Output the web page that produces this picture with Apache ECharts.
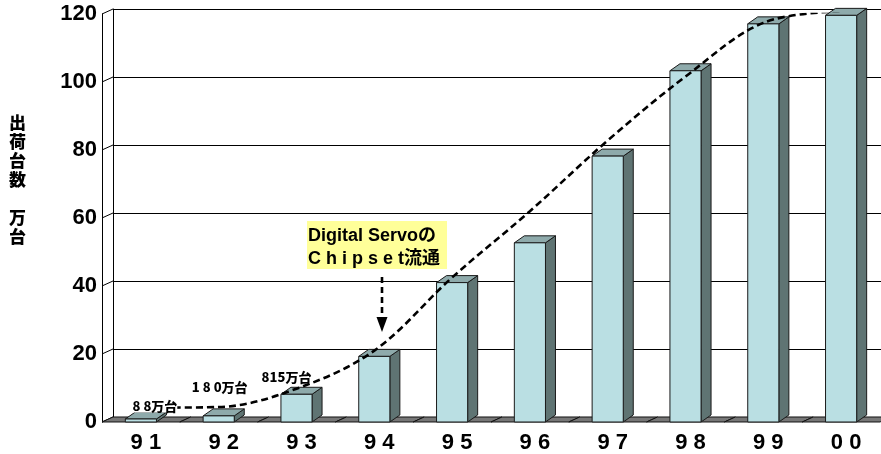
<!DOCTYPE html>
<html>
<head>
<meta charset="utf-8">
<script src="https://cdn.jsdelivr.net/npm/echarts@6/dist/echarts.min.js"></script>
<style>
  html, body { margin: 0; padding: 0; background: #fff; }
  #main { width: 881px; height: 454px; }
</style>
</head>
<body>
<div id="main"></div>
<script>
// Yearly shipments (bars) and the dashed trend curve, axis unit 百万台
const years = ['91', '92', '93', '94', '95', '96', '97', '98', '99', '00'];
const shipments = [0.88, 1.8, 8.15, 19.3, 41.0, 52.7, 78.2, 103.3, 117.1, 119.6];
const trend = [4.2, 4.4, 9.8, 21.0, 42.5, 62.0, 82.8, 101.6, 117.4, 120.8];
const yTicks = [0, 20, 40, 60, 80, 100, 120];

// 3D look: depth offsets of the bars and of the walls
const BAR_DEPTH = [10, -7];
const WALL_DEPTH = [11, -5];
const BAR_RATIO = 0.4;

// small-value callouts: [dx, dy] from the top centre of the bar
const calloutOffsets = [[14, -13], [1, -29], [-10, -17]];

const FONT = "'Liberation Sans', 'Noto Sans CJK JP', sans-serif";
const CJK = "'Noto Sans CJK JP', 'Liberation Sans', sans-serif";

const chart = echarts.init(document.getElementById('main'));

function barItem(params, api) {
  const i = api.value(0), v = api.value(1);
  const top = api.coord([i, v]);
  const base = api.coord([i, 0]);
  const bw = api.size([1, 0])[0] * BAR_RATIO;
  const x0 = top[0] - bw / 2, x1 = top[0] + bw / 2;
  const yt = top[1], yb = base[1];
  const [dx, dy] = BAR_DEPTH;
  const stroke = { stroke: '#1a1a1a', lineWidth: 1 };
  return {
    type: 'group',
    children: [
      { type: 'polygon', shape: { points: [[x1, yt], [x1 + dx, yt + dy], [x1 + dx, yb + dy], [x1, yb]] },
        style: Object.assign({ fill: '#5f7473' }, stroke) },
      { type: 'polygon', shape: { points: [[x0, yt], [x1, yt], [x1 + dx, yt + dy], [x0 + dx, yt + dy]] },
        style: Object.assign({ fill: '#8eaaab' }, stroke) },
      { type: 'rect', shape: { x: x0, y: yt, width: bw, height: Math.max(yb - yt, 0.5) },
        style: Object.assign({ fill: '#badfe3' }, stroke) }
    ]
  };
}

function floorItem(params, api) {
  const i = api.value(0);
  const c = api.coord([i, 0]);
  const bw = api.size([1, 0])[0];
  const x0 = c[0] - bw / 2, x1 = c[0] + bw / 2, y = c[1];
  const [dx, dy] = WALL_DEPTH;
  return {
    type: 'polygon',
    shape: { points: [[x0, y], [x1, y], [x1 + dx, y + dy], [x0 + dx, y + dy]] },
    style: { fill: '#777777', stroke: '#111', lineWidth: 1 }
  };
}

function wallTickItem(params, api) {
  const p = api.coord([0, api.value(1)]);
  const x = params.coordSys.x;
  const [dx, dy] = WALL_DEPTH;
  return {
    type: 'line',
    shape: { x1: x, y1: p[1], x2: x + dx, y2: p[1] + dy },
    style: { stroke: '#000', lineWidth: 1 }
  };
}

function calloutItem(params, api) {
  const i = api.value(0), v = api.value(1);
  if (v >= 10) return null;
  const top = api.coord([i, v]);
  const off = calloutOffsets[i] || [0, -14];
  const num = String(Math.round(v * 100));
  const txt = (i < 2 ? num.split('').join(' ') : num) + '万台';
  return {
    type: 'text',
    x: top[0] + off[0],
    y: top[1] + off[1],
    style: {
      text: txt, fill: '#000', align: 'center', verticalAlign: 'middle',
      font: '900 13px ' + CJK, backgroundColor: '#fff'
    }
  };
}

const option = {
  animation: false,
  backgroundColor: '#fff',
  grid: [
    { left: 102, top: 14, width: 778, height: 408 },   // front plane
    { left: 113, top: 9, width: 778, height: 408 }     // back wall
  ],
  xAxis: [
    {
      type: 'category', data: years, gridIndex: 0,
      axisLine: { show: false }, axisTick: { show: false },
      axisLabel: {
        formatter: v => v.split('').join(' '),
        color: '#000', fontWeight: 'bold', fontSize: 22,
        fontFamily: FONT,
        margin: 10, padding: [0, 0, 0, 10]
      }
    },
    { type: 'category', data: years, gridIndex: 1, show: false }
  ],
  yAxis: [
    {
      type: 'value', gridIndex: 0, min: 0, max: 120, interval: 20,
      axisLine: { show: true, lineStyle: { color: '#000', width: 1 } },
      axisTick: { show: false }, splitLine: { show: false },
      axisLabel: { color: '#000', fontWeight: 'bold', fontSize: 22, fontFamily: FONT, margin: 5 }
    },
    {
      type: 'value', gridIndex: 1, min: 0, max: 120, interval: 20,
      axisLine: { show: true, lineStyle: { color: '#000', width: 1 } },
      axisTick: { show: false }, axisLabel: { show: false },
      splitLine: { show: true, lineStyle: { color: '#000', width: 1 } }
    }
  ],
  series: [
    {
      type: 'custom', name: 'wallTicks', xAxisIndex: 0, yAxisIndex: 0, z: 2,
      renderItem: wallTickItem, data: yTicks.map(v => [0, v]), silent: true
    },
    {
      type: 'custom', name: 'floor', xAxisIndex: 0, yAxisIndex: 0, z: 2,
      renderItem: floorItem, data: years.map((y, i) => [i, 0]), silent: true
    },
    {
      type: 'custom', name: '出荷台数', xAxisIndex: 0, yAxisIndex: 0, z: 3,
      renderItem: barItem, data: shipments.map((v, i) => [i, v])
    },
    {
      type: 'line', name: 'trend', xAxisIndex: 0, yAxisIndex: 0, z: 5,
      data: trend, smooth: 0.35, symbol: 'none',
      lineStyle: { color: '#000', width: 2.6, type: [7, 4] }
    },
    {
      type: 'custom', name: 'callouts', xAxisIndex: 0, yAxisIndex: 0, z: 6,
      renderItem: calloutItem, data: shipments.map((v, i) => [i, v]), silent: true
    }
  ],
  graphic: [
    {
      type: 'text', left: 9, top: 113,
      style: {
        text: '出\n荷\n台\n数\n\n万\n台', fill: '#000',
        font: '900 17px ' + CJK, lineHeight: 19, align: 'center'
      }
    },
    {
      type: 'group', left: 307, top: 221,
      children: [
        { type: 'rect', shape: { x: 0, y: 0, width: 140, height: 48 }, style: { fill: '#ffff99' } },
        { type: 'text', x: 1, y: 15,
          style: { text: 'Digital Servoの', fill: '#000', font: 'bold 18px ' + FONT, verticalAlign: 'middle' } },
        { type: 'text', x: 1, y: 38,
          style: { text: 'C h i p s e t流通', fill: '#000', font: 'bold 18px ' + FONT, verticalAlign: 'middle' } }
      ]
    },
    {
      type: 'line', shape: { x1: 382, y1: 277, x2: 382, y2: 318 },
      style: { stroke: '#000', lineWidth: 2.6, lineDash: [6, 4] }, z: 10
    },
    {
      type: 'polygon', shape: { points: [[376.5, 317], [387.5, 317], [382, 332]] },
      style: { fill: '#000' }, z: 10
    }
  ]
};

chart.setOption(option);
</script>
</body>
</html>
